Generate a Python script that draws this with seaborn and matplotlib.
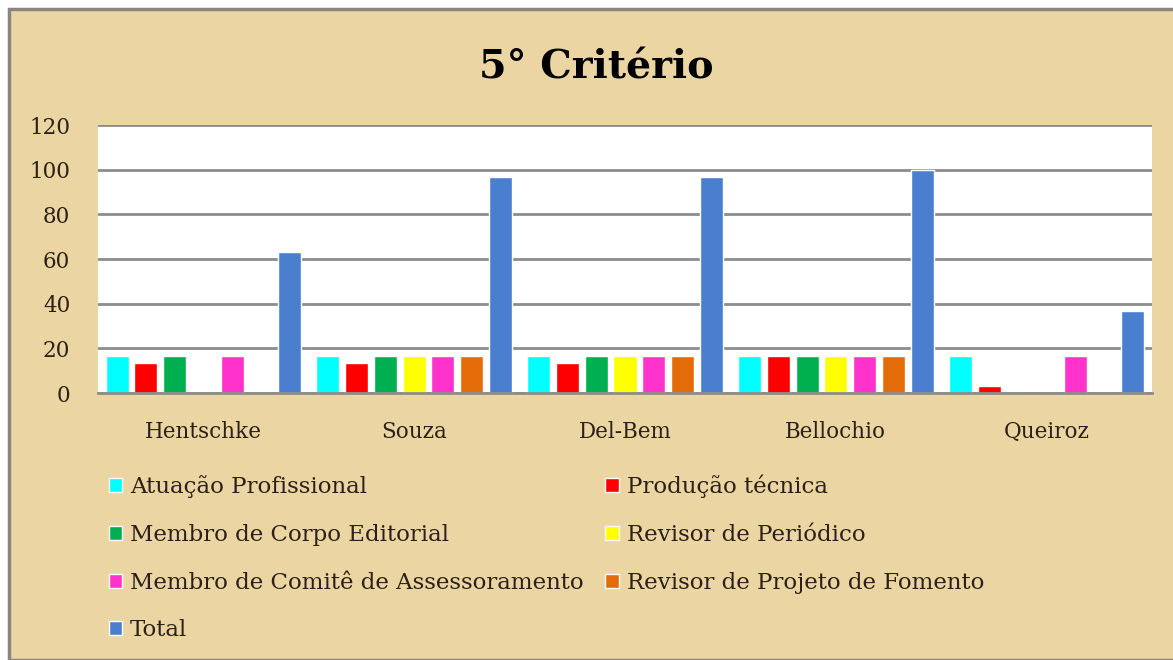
import seaborn as sns
import pandas as pd
import matplotlib.pyplot as plt
from matplotlib.patches import Rectangle

# Data
candidatos = ["Hentschke", "Souza", "Del-Bem", "Bellochio", "Queiroz"]
series = ["Atuação Profissional", "Produção técnica", "Membro de Corpo Editorial",
          "Revisor de Periódico", "Membro de Comitê de Assessoramento",
          "Revisor de Projeto de Fomento", "Total"]
atuacao = [16.7, 16.7, 16.7, 16.7, 16.7]
producao = [13.3, 13.3, 13.3, 16.7, 3.3]
corpo_editorial = [16.7, 16.7, 16.7, 16.7, 0]
revisor_periodico = [0, 16.7, 16.7, 16.7, 0]
comite = [16.7, 16.7, 16.7, 16.7, 16.7]
revisor_fomento = [0, 16.7, 16.7, 16.7, 0]
total = [63.3, 96.7, 96.7, 100, 36.7]
cores = ["#00FFFF", "#FF0000", "#00B050", "#FFFF00", "#FF33CC", "#E36C09", "#4A7FD0"]
yticks = [0, 20, 40, 60, 80, 100, 120]

valores = [atuacao, producao, corpo_editorial, revisor_periodico, comite, revisor_fomento, total]
rows = []
for s, vals in zip(series, valores):
    for c, v in zip(candidatos, vals):
        rows.append({"Candidato": c, "Critério": s, "Valor": v})
df = pd.DataFrame(rows)

sns.set_style("white")
plt.rcParams['font.family'] = ['DejaVu Serif', 'Liberation Serif']
txt = "#2b2118"

fig = plt.figure(figsize=(11.73, 6.6), dpi=100)
fig.patch.set_facecolor("white")
# parchment-like panel behind everything
fig.patches.append(Rectangle((9 / 1173, 0), 1.0, 1 - 9 / 660, transform=fig.transFigure,
                             facecolor="#EBD6A3", edgecolor="#8a8580", linewidth=2.5, zorder=-10))

ax = fig.add_axes([98 / 1173, 1 - 393 / 660, (1152 - 98) / 1173, (393 - 125) / 660])
sns.barplot(data=df, x="Candidato", y="Valor", hue="Critério", order=candidatos,
            hue_order=series, palette=cores, width=0.955, gap=0.2, ax=ax,
            saturation=1, legend=False)

ax.set_facecolor("white")
ax.set_ylim(0, 120)
ax.set_yticks(yticks)
ax.set_xlim(-0.5, 4.5)
ax.grid(axis="y", color="#8c8c8c", linewidth=2)
ax.set_axisbelow(True)
for s in ["top", "left", "right"]:
    ax.spines[s].set_visible(False)
ax.spines["bottom"].set_color("#8c8c8c")
ax.spines["bottom"].set_linewidth(2)
ax.tick_params(axis="y", length=0, pad=20, labelsize=15.5, labelcolor=txt)
ax.tick_params(axis="x", length=0, pad=20, labelsize=15.5, labelcolor=txt)
ax.set_xlabel("")
ax.set_ylabel("")

fig.text(0.508, 0.898, "5° Critério", ha="center", va="center", fontsize=28.5,
         fontweight="bold", color="black")

# Legend in two columns, row-major order
handles = [Rectangle((0, 0), 1, 1, facecolor=c) for c in cores]
order = [0, 2, 4, 6, 1, 3, 5]
leg = fig.legend([handles[i] for i in order], [series[i] for i in order],
                 loc="upper left", bbox_to_anchor=(109 / 1173, 1 - 475 / 660), ncol=2,
                 frameon=False, fontsize=16.5, handlelength=0.57, handleheight=0.57,
                 handletextpad=0.35, columnspacing=0.95, labelspacing=1.12, borderaxespad=0,
                 borderpad=0)
for t in leg.get_texts():
    t.set_color(txt)

plt.savefig("out.png", dpi=100)
